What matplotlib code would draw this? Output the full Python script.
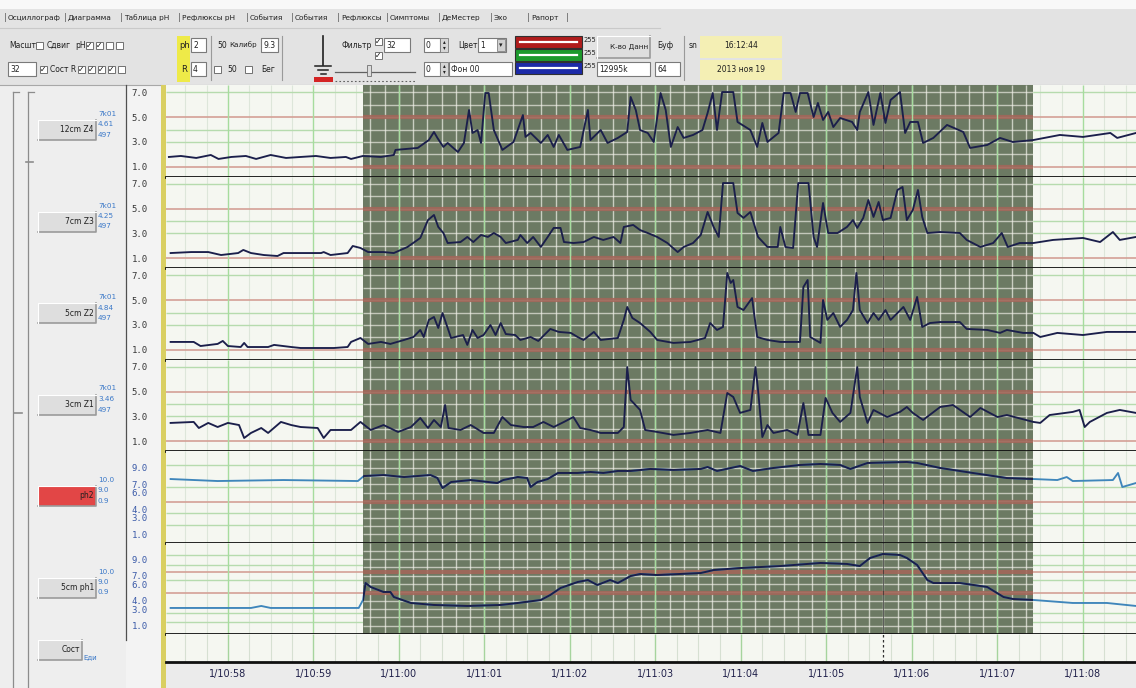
import matplotlib.pyplot as plt
from matplotlib.patches import Rectangle
import numpy as np

plt.rcParams['font.family'] = ['DejaVu Sans']

W, H = 1136, 688

# time axis in minutes after 10:58
time_labels = ["1/10:58", "1/10:59", "1/11:00", "1/11:01", "1/11:02", "1/11:03",
               "1/11:04", "1/11:05", "1/11:06", "1/11:07", "1/11:08"]
t_min, t_max = -0.724, 10.62
episode_start, episode_end = 1.58, 9.42
cursor_t = 7.66

tabs = ["Осциллограф", "Диаграмма", "Таблица pH", "Рефлюксы pH", "События", "События",
        "Рефлюксы", "Симптомы", "ДеМестер", "Эхо", "Рапорт"]

channels = ["12cm Z4", "7cm Z3", "5cm Z2", "3cm Z1", "ph2", "5cm ph1"]
channel_info = [["7k01", "4.61", "497"], ["7k01", "4.25", "497"], ["7k01", "4.84", "497"],
                ["7k01", "3.46", "497"], ["10.0", "9.0", "0.9"], ["10.0", "9.0", "0.9"]]

z_ticks = [7, 5, 3, 1]
ph_ticks = [9, 7, 6, 4, 3, 1]

# impedance channels
t_z4 = [-0.69, -0.55, -0.37, -0.20, -0.11, 0.04, 0.21, 0.33, 0.50, 0.68, 0.85, 1.03, 1.20, 1.38,
        1.44, 1.58, 1.79, 1.94, 1.96, 2.22, 2.35, 2.41, 2.45, 2.52, 2.57, 2.69, 2.76, 2.82, 2.86,
        2.92, 2.96, 3.01, 3.05, 3.11, 3.21, 3.34, 3.45, 3.48, 3.54, 3.66, 3.74, 3.81, 3.87, 3.97,
        4.12, 4.21, 4.24, 4.36, 4.44, 4.56, 4.67, 4.71, 4.77, 4.82, 4.91, 4.98, 5.06, 5.12, 5.18,
        5.26, 5.33, 5.44, 5.55, 5.61, 5.67, 5.72, 5.78, 5.91, 5.96, 6.11, 6.19, 6.25, 6.31, 6.44,
        6.50, 6.58, 6.64, 6.69, 6.78, 6.85, 6.90, 6.96, 7.02, 7.08, 7.16, 7.30, 7.36, 7.39, 7.49,
        7.55, 7.63, 7.69, 7.75, 7.86, 7.92, 7.98, 8.07, 8.13, 8.25, 8.41, 8.60, 8.68, 8.88, 9.03,
        9.18, 9.42, 9.73, 10.00, 10.32, 10.40, 10.62]
v_z4 = [1.78, 1.86, 1.70, 1.94, 1.62, 1.78, 1.86, 1.62, 1.94, 1.70, 1.78, 1.86, 1.70, 1.78,
        1.62, 1.86, 1.78, 1.94, 2.35, 2.51, 3.15, 3.80, 3.32, 2.59, 2.91, 2.18, 2.91, 5.58, 3.72,
        3.96, 2.91, 6.95, 6.95, 3.96, 2.35, 2.99, 5.17, 3.40, 3.72, 2.91, 3.56, 2.59, 3.56, 2.35,
        2.59, 5.58, 3.15, 3.96, 2.91, 3.32, 3.80, 6.63, 5.58, 3.96, 3.72, 2.99, 6.95, 5.58, 2.59,
        4.20, 3.32, 3.56, 3.96, 5.34, 6.95, 3.96, 7.03, 7.03, 4.61, 3.96, 2.59, 4.53, 2.99, 3.72,
        6.95, 6.95, 5.42, 6.95, 6.95, 5.01, 6.15, 4.77, 5.42, 4.20, 4.93, 4.61, 3.96, 5.42, 7.03,
        4.37, 6.95, 4.53, 6.39, 7.03, 3.72, 4.61, 4.61, 2.91, 3.32, 4.37, 3.80, 2.51, 2.75, 3.32,
        2.99, 3.15, 3.56, 3.40, 3.72, 3.32, 3.72]

t_z3 = [-0.67, -0.43, -0.23, -0.08, 0.12, 0.18, 0.27, 0.42, 0.58, 0.65, 0.89, 1.09, 1.12, 1.20,
        1.40, 1.46, 1.55, 1.64, 1.82, 1.94, 2.10, 2.25, 2.34, 2.41, 2.46, 2.52, 2.57, 2.72, 2.80,
        2.87, 2.96, 3.04, 3.11, 3.19, 3.25, 3.39, 3.42, 3.50, 3.57, 3.66, 3.74, 3.81, 3.89, 3.93,
        4.04, 4.16, 4.28, 4.39, 4.51, 4.59, 4.63, 4.74, 4.82, 4.91, 5.02, 5.14, 5.26, 5.33, 5.44,
        5.53, 5.61, 5.68, 5.74, 5.79, 5.91, 5.96, 6.03, 6.11, 6.20, 6.31, 6.43, 6.46, 6.52, 6.61,
        6.67, 6.79, 6.85, 6.89, 6.96, 7.02, 7.13, 7.24, 7.31, 7.36, 7.43, 7.49, 7.55, 7.61, 7.66,
        7.75, 7.83, 7.89, 7.94, 8.01, 8.07, 8.12, 8.18, 8.33, 8.56, 8.64, 8.80, 8.95, 9.05, 9.12,
        9.26, 9.42, 9.65, 10.00, 10.20, 10.35, 10.43, 10.62]
v_z3 = [1.41, 1.49, 1.49, 1.25, 1.41, 1.66, 1.41, 1.25, 1.17, 1.41, 1.41, 1.41, 1.49, 1.25,
        1.41, 1.98, 1.82, 1.49, 1.49, 1.41, 1.90, 2.63, 4.08, 4.49, 3.52, 3.03, 2.22, 2.30, 2.71,
        2.30, 2.87, 2.71, 3.03, 2.71, 2.22, 2.47, 2.87, 2.22, 2.71, 1.90, 2.71, 3.44, 3.44, 2.30,
        2.22, 2.30, 2.71, 2.47, 2.71, 2.22, 3.52, 3.68, 3.27, 3.03, 2.71, 2.22, 1.49, 1.90, 2.22,
        2.87, 4.73, 3.52, 2.71, 7.07, 7.07, 4.65, 4.25, 4.73, 2.71, 1.90, 1.90, 3.52, 1.90, 1.82,
        7.07, 7.07, 2.71, 1.90, 5.46, 3.03, 3.03, 3.52, 4.08, 3.44, 4.25, 5.70, 4.33, 5.54, 4.08,
        4.25, 6.51, 6.75, 4.08, 4.89, 6.51, 4.33, 3.03, 3.11, 3.03, 2.47, 1.90, 2.22, 3.03, 1.90,
        2.22, 2.22, 2.47, 2.63, 2.30, 3.11, 2.47, 2.71]

t_z2 = [-0.67, -0.40, -0.32, -0.12, -0.06, 0.00, 0.15, 0.19, 0.23, 0.47, 0.54, 0.74, 0.85, 1.24,
        1.40, 1.44, 1.55, 1.64, 1.79, 1.90, 2.06, 2.17, 2.25, 2.29, 2.35, 2.41, 2.46, 2.51, 2.57,
        2.61, 2.75, 2.80, 2.86, 2.92, 2.99, 3.07, 3.13, 3.19, 3.25, 3.36, 3.42, 3.54, 3.63, 3.77,
        3.87, 4.01, 4.09, 4.16, 4.28, 4.36, 4.56, 4.63, 4.67, 4.73, 4.82, 4.94, 5.02, 5.21, 5.41,
        5.58, 5.64, 5.72, 5.79, 5.84, 5.88, 5.91, 5.96, 6.03, 6.13, 6.19, 6.31, 6.46, 6.69, 6.73,
        6.78, 6.81, 6.93, 6.96, 7.01, 7.08, 7.16, 7.24, 7.31, 7.35, 7.39, 7.48, 7.55, 7.61, 7.69,
        7.75, 7.90, 7.98, 8.06, 8.12, 8.21, 8.33, 8.56, 8.64, 8.88, 9.03, 9.11, 9.30, 9.42, 9.50,
        9.70, 10.00, 10.28, 10.62]
v_z2 = [1.62, 1.62, 1.29, 1.46, 1.70, 1.29, 1.21, 1.54, 1.21, 1.21, 1.38, 1.21, 1.13, 1.13,
        1.21, 1.62, 1.94, 1.46, 1.62, 1.46, 1.78, 2.02, 2.59, 2.02, 3.40, 3.64, 2.75, 3.96, 2.75,
        1.94, 2.18, 1.38, 2.59, 1.94, 2.18, 2.99, 2.18, 3.15, 2.26, 2.18, 1.78, 2.02, 1.70, 2.67,
        2.43, 2.35, 2.02, 1.78, 2.43, 1.78, 1.94, 3.40, 4.45, 3.56, 3.15, 2.43, 1.78, 1.54, 1.62,
        1.94, 3.15, 2.59, 2.83, 7.20, 6.39, 6.63, 4.45, 4.20, 5.17, 2.02, 1.78, 1.62, 1.62, 6.06,
        6.63, 2.02, 1.54, 5.01, 3.40, 3.96, 2.83, 3.40, 4.20, 7.20, 4.20, 3.15, 3.96, 3.40, 4.20,
        3.40, 4.45, 3.40, 5.26, 2.83, 3.15, 3.23, 3.23, 2.67, 2.59, 2.35, 2.59, 2.35, 2.35, 2.02,
        2.35, 2.18, 2.43, 2.43]

t_z1 = [-0.67, -0.40, -0.34, -0.23, -0.12, 0.00, 0.13, 0.19, 0.27, 0.39, 0.47, 0.62, 0.74, 0.85,
        1.05, 1.12, 1.20, 1.44, 1.55, 1.67, 1.82, 1.99, 2.14, 2.25, 2.34, 2.41, 2.49, 2.54, 2.58,
        2.72, 2.84, 2.99, 3.11, 3.21, 3.31, 3.46, 3.57, 3.69, 3.81, 3.93, 4.04, 4.12, 4.24, 4.36,
        4.56, 4.63, 4.67, 4.71, 4.82, 4.88, 5.02, 5.21, 5.41, 5.61, 5.76, 5.84, 5.91, 5.99, 6.11,
        6.17, 6.20, 6.25, 6.31, 6.38, 6.54, 6.66, 6.73, 6.79, 6.93, 6.99, 7.07, 7.16, 7.28, 7.36,
        7.39, 7.48, 7.55, 7.71, 7.86, 7.94, 8.01, 8.13, 8.33, 8.48, 8.68, 8.80, 9.00, 9.11, 9.42,
        9.50, 9.61, 9.88, 9.96, 10.02, 10.08, 10.28, 10.43, 10.62]
v_z1 = [2.47, 2.55, 2.06, 2.47, 2.14, 2.47, 2.30, 1.25, 1.66, 2.06, 1.66, 2.55, 2.30, 2.14,
        2.06, 1.25, 1.90, 1.90, 2.55, 1.90, 2.30, 1.74, 2.14, 2.87, 2.06, 2.71, 2.14, 3.92, 2.06,
        1.90, 2.30, 1.66, 1.66, 2.95, 2.30, 2.14, 2.14, 2.55, 2.14, 2.55, 2.95, 2.06, 1.90, 1.66,
        1.66, 2.14, 6.99, 4.33, 3.52, 1.90, 1.74, 1.50, 1.66, 1.90, 1.66, 4.89, 4.57, 3.28, 3.52,
        6.99, 5.13, 1.33, 2.30, 1.66, 1.90, 1.50, 4.08, 1.50, 1.50, 4.49, 3.28, 2.55, 3.28, 6.99,
        4.57, 2.47, 3.52, 2.95, 3.36, 3.76, 3.28, 2.71, 3.76, 3.92, 2.95, 3.68, 2.95, 3.11, 2.55,
        2.47, 3.11, 3.36, 3.52, 2.14, 2.55, 3.28, 3.52, 3.28]

# pH channels
t_ph2 = [-0.67, -0.12, 0.65, 1.52, 1.59, 1.82, 2.06, 2.37, 2.45, 2.51, 2.61, 2.84, 3.15, 3.22,
         3.39, 3.50, 3.54, 3.62, 3.74, 3.86, 4.09, 4.24, 4.39, 4.56, 4.71, 4.94, 5.21, 5.53, 5.61,
         5.72, 5.99, 6.14, 6.38, 6.69, 6.93, 7.16, 7.28, 7.48, 7.94, 8.06, 8.33, 8.71, 9.11, 9.42,
         9.70, 9.81, 9.88, 10.35, 10.41, 10.46, 10.62]
v_ph2 = [7.63, 7.39, 7.51, 7.39, 7.99, 8.11, 7.87, 8.11, 7.75, 6.55, 7.27, 7.51, 7.15, 7.51,
         7.87, 7.75, 6.67, 7.27, 7.63, 8.36, 8.36, 8.48, 8.36, 8.60, 8.60, 8.84, 8.72, 8.84, 9.08,
         8.60, 9.20, 8.60, 8.96, 9.32, 9.44, 9.32, 8.84, 9.56, 9.68, 9.56, 8.96, 8.36, 7.75, 7.63,
         7.51, 7.87, 7.39, 7.51, 8.36, 6.67, 7.15]

t_ph1 = [-0.67, 0.27, 0.39, 0.50, 1.53, 1.58, 1.61, 1.67, 1.82, 1.90, 1.94, 2.14, 2.41, 2.80,
         3.19, 3.39, 3.66, 3.77, 3.89, 4.09, 4.21, 4.32, 4.47, 4.56, 4.71, 4.82, 5.02, 5.53, 5.68,
         5.99, 6.46, 6.93, 7.24, 7.39, 7.51, 7.66, 7.86, 7.94, 8.06, 8.18, 8.25, 8.56, 8.88, 9.07,
         9.18, 9.42, 9.88, 10.28, 10.62]
v_ph1 = [3.13, 3.13, 3.37, 3.13, 3.13, 4.09, 6.13, 5.65, 5.05, 5.05, 4.45, 3.73, 3.49, 3.37,
         3.49, 3.73, 4.09, 4.69, 5.53, 6.25, 6.49, 5.89, 6.49, 6.13, 6.97, 7.21, 7.09, 7.33, 7.69,
         7.93, 8.17, 8.54, 8.42, 8.17, 9.14, 9.62, 9.50, 9.14, 8.30, 6.49, 6.13, 6.13, 5.65, 4.45,
         4.21, 4.09, 3.73, 3.73, 3.37]

lane_tops = [85, 176.5, 268, 359.5, 451, 542.5]
lane_h = 91.5

fig = plt.figure(figsize=(W / 100, H / 100), dpi=100, facecolor='#ebebeb')


def px_axes(x0, y0, x1, y1):
    return fig.add_axes([x0 / W, 1 - y1 / H, (x1 - x0) / W, (y1 - y0) / H])


# ---- window chrome drawn in pixel coordinates
ui = px_axes(0, 0, W, H)
ui.set_xlim(0, W)
ui.set_ylim(H, 0)
ui.axis('off')


def rect(x0, y0, x1, y1, fc, ec='none', lw=0.8, z=1):
    ui.add_patch(Rectangle((x0, y0), x1 - x0, y1 - y0, facecolor=fc, edgecolor=ec, lw=lw, zorder=z))


def label(x, y, s, size=5.5, color='#202020', ha='left', **kw):
    ui.text(x, y, s, fontsize=size, color=color, ha=ha, va='center', zorder=4, **kw)


def field(x0, y0, x1, y1, s='', fc='white'):
    rect(x0, y0, x1, y1, fc, '#7a7a7a', 0.8, 2)
    if s:
        label(x0 + 2, (y0 + y1) / 2, s)


def checkbox(x, y, on):
    rect(x, y - 3.5, x + 7, y + 3.5, 'white', '#707070', 0.7, 2)
    if on:
        label(x + 3.5, y, '✓', size=5.5, ha='center', color='#101010')


def button(x0, y0, x1, y1, s, fc='#dedede', size=5.5):
    rect(x0, y0, x1, y1, fc, z=2)
    ui.plot([x0, x1, x1], [y1, y1, y0], color='#9a9a9a', lw=1.2, zorder=3)
    ui.plot([x0, x0, x1], [y1, y0, y0], color='white', lw=0.8, zorder=3)
    label(x1 - 2, (y0 + y1) / 2, s, size=size, ha='right')


rect(0, 0, W, 9, '#f8f8f8')
rect(0, 9, W, 85, '#e3e3e3')
ui.plot([0, W], [84.5, 84.5], color='#a8a8a8', lw=0.8, zorder=2)
ui.plot([0, 660], [28, 28], color='#c9c9c9', lw=0.8, zorder=2)

tab_x = [8, 68, 124, 182, 250, 295, 341, 390, 442, 494, 531]
for x, s in zip(tab_x, tabs):
    label(x, 18, s, size=5.3)
    label(x - 4, 18, '|', size=6, color='#606060')
label(566, 18, '|', size=6, color='#606060')

# row 1 of controls
label(9, 45, 'Масшт')
checkbox(36, 45, False)
label(47, 45, 'Сдвиг')
label(75, 45, 'pH')
for i, on in enumerate([True, True, False, False]):
    checkbox(86 + 10 * i, 45, on)
# row 2 of controls
field(8, 62, 36, 76, '32')
checkbox(40, 69, True)
label(50, 69, 'Сост R')
for i, on in enumerate([True, True, True, True, False]):
    checkbox(78 + 10 * i, 69, on)

rect(177, 36, 190, 82, '#eeea48')
label(179, 45, 'ph', size=6)
label(181, 69, 'R', size=6)
field(191, 38, 206, 52, '2')
field(191, 62, 206, 76, '4')
ui.plot([211, 211], [36, 80], color='#9a9a9a', lw=0.8, zorder=2)
label(217, 45, '50')
label(229, 45, 'Калибр', size=5.1)
field(261, 38, 278, 52, '9.3')
checkbox(214, 69, False)
label(227, 69, '50')
checkbox(245, 69, False)
label(261, 69, 'Бег')
ui.plot([282, 282], [36, 80], color='#9a9a9a', lw=0.8, zorder=2)

# ground symbol
ui.plot([323, 323], [36, 65], color='#202020', lw=1.2, zorder=3)
for y, half in [(66, 8), (70, 5), (74, 2.5)]:
    ui.plot([323 - half, 323 + half], [y, y], color='#202020', lw=1.1, zorder=3)
rect(314, 77, 333, 82, '#d42424', z=3)

label(342, 45, 'Фильтр')
checkbox(375, 41, True)
checkbox(375, 55, True)
field(384, 38, 410, 52, '32')
ui.plot([335, 415], [72, 72], color='#606060', lw=0.9, zorder=3)
rect(367, 65, 371, 76, '#dcdcdc', '#707070', 0.6, 3)
ui.plot([335, 415], [81, 81], color='#606060', lw=0.8, ls=(0, (1.5, 2)), zorder=3)
for y0 in [38, 62]:
    field(424, y0, 440, y0 + 14, '0')
    rect(440, y0, 448, y0 + 14, '#d6d6d6', '#7a7a7a', 0.6, 2)
    label(444, y0 + 4, '▴', size=4, ha='center')
    label(444, y0 + 10, '▾', size=4, ha='center')
label(458, 45, 'Цвет')
field(478, 38, 506, 52, '1')
rect(497, 39, 505, 51, '#d0d0d0', '#808080', 0.6, 3)
label(501, 45, '▾', size=5, ha='center')
field(449, 62, 512, 76, 'Фон 00')

for y0, c in [(36, '#b01c1c'), (49, '#1c9a2c'), (62, '#1c2aa8')]:
    rect(515, y0, 582, y0 + 12, c, '#303030', 0.8, 2)
    ui.plot([520, 577], [y0 + 6, y0 + 6], color='white', lw=1.6, zorder=3)
    label(584, y0 + 4, '255', size=4.8)

button(597, 36, 650, 58, 'К-во Данн', size=5.2)
field(597, 62, 650, 76, '12995k')
label(657, 45, 'Буф')
field(655, 62, 680, 76, '64')
ui.plot([684, 684], [36, 80], color='#9a9a9a', lw=0.8, zorder=2)
label(689, 45, 'sn')
rect(700, 36, 782, 58, '#f4efb4', z=2)
label(741, 46, '16:12:44', ha='center')
rect(700, 60, 782, 80, '#f4efb4', z=2)
label(741, 70, '2013 ноя 19', ha='center')

# left panel with channel buttons and scale column
rect(0, 85, 126, H, '#eeeeee')
rect(126, 85, 162, H, '#f3f3f3')
ui.plot([126, 126], [85, 640], color='#505050', lw=0.9, zorder=2)
rect(161, 85, 166, H, '#d9cf62', z=2)
for x in [13, 28]:
    ui.plot([x, x], [92, H], color='#8c8c8c', lw=0.9, zorder=2)
    ui.plot([x, x + 6], [92, 92], color='#8c8c8c', lw=0.9, zorder=2)
ui.plot([26, 33], [162, 162], color='#8c8c8c', lw=1.2, zorder=2)
ui.plot([14, 22], [413, 413], color='#8c8c8c', lw=1.2, zorder=2)

for name, info, top in zip(channels, channel_info, lane_tops):
    fc = '#e24646' if name == 'ph2' else '#dedede'
    button(38, top + 35, 96, top + 55, name, fc=fc)
    for k, s in enumerate(info):
        label(98, top + 29 + 10.5 * k, s, size=5.2, color='#3a78c8')
button(38, 640, 82, 660, 'Сост')
label(83, 657, 'Еди', size=5, color='#3a78c8')

# ---- signal lanes
major = np.arange(0, 11)
minor = np.array([m for m in np.arange(-0.75, 10.75, 0.25) if m % 1 != 0])
fine_t = np.arange(np.ceil(episode_start * 6) / 6, episode_end, 1 / 6)

lanes = [
    (t_z4, v_z4, 'z'), (t_z3, v_z3, 'z'), (t_z2, v_z2, 'z'),
    (t_z1, v_z1, 'z'), (t_ph2, v_ph2, 'ph'), (t_ph1, v_ph1, 'ph'),
]
green_levels = {'z': [7, 4, 3], 'ph2': [9.3, 6.7, 3.5, 2.1], 'ph1': [9.5, 8.3, 6.5, 2.5, 1.4]}
red_levels = {'z': [5, 1], 'ph2': [4.9], 'ph1': [7.5, 4.9]}

for i, (t, v, kind) in enumerate(lanes):
    top = lane_tops[i]
    ax = px_axes(166, top, W, top + lane_h)
    ax.set_xlim(t_min, t_max)
    if kind == 'z':
        ylim = (0.2, 7.6)
        ticks = z_ticks
        key = 'z'
        fine_levels = np.arange(1, 8)
        tick_color = '#363636'
    else:
        ylim = (0, 11)
        ticks = ph_ticks
        key = 'ph2' if i == 4 else 'ph1'
        fine_levels = np.arange(1, 11)
        tick_color = '#3a5aa8'
    ax.set_ylim(*ylim)
    ax.set_facecolor('#f5f7f1')

    ax.vlines(minor, *ylim, color='#dde6da', lw=0.8, zorder=1)
    ax.hlines(green_levels[key], t_min, t_max, color='#b6dbae', lw=1.0, zorder=1)
    ax.hlines(red_levels[key], t_min, t_max, color='#d4a096', lw=1.2, zorder=1)

    ax.axvspan(episode_start, episode_end, color='#6c7a63', lw=0, zorder=2)
    ax.vlines(fine_t, *ylim, color='#f2f2ea', alpha=0.7, lw=1.0, zorder=3)
    ax.hlines(fine_levels, episode_start, episode_end, color='#f2f2ea', alpha=0.65, lw=1.0, zorder=3)
    ax.hlines(red_levels[key], episode_start, episode_end, color='#a2675a', alpha=0.9, lw=3.0, zorder=3)
    ax.vlines(major, *ylim, color='#a6dc9e', lw=1.0, zorder=4)
    ax.axvline(cursor_t, color='#2a2a2a', lw=0.7, alpha=0.7, zorder=4)

    if kind == 'z':
        ax.plot(t, v, color='#1b1f4b', lw=1.35, zorder=5)
    else:
        ax.plot(t, v, color='#3f86bb', lw=1.35, zorder=5)
        clip = Rectangle((episode_start, ylim[0]), episode_end - episode_start,
                         ylim[1] - ylim[0], transform=ax.transData)
        dark, = ax.plot(t, v, color='#1b1f4b', lw=1.4, zorder=6)
        dark.set_clip_path(clip)

    ax.set_yticks(ticks)
    ax.set_yticklabels([f"{x:.1f}" for x in ticks], fontsize=6.5,
                       family='DejaVu Sans Mono', color=tick_color)
    ax.tick_params(axis='y', length=0, pad=13)
    ax.set_xticks([])
    for s in ['top', 'left', 'right']:
        ax.spines[s].set_visible(False)
    ax.spines['bottom'].set_color('#101010')
    ax.spines['bottom'].set_linewidth(2.0)
    ax.spines['bottom'].set_zorder(7)

# ---- state strip with time axis
axb = px_axes(166, 634, W, 662)
axb.set_xlim(t_min, t_max)
axb.set_ylim(0, 1)
axb.set_facecolor('#f5f7f1')
axb.vlines(minor, 0, 1, color='#d6e0d2', lw=0.8)
axb.vlines(major, 0, 1, color='#a6d49e', lw=1.0)
axb.axvline(cursor_t, color='#303030', lw=0.9, ls=(0, (2, 2)))
axb.set_yticks([])
axb.set_xticks(major)
axb.set_xticklabels(time_labels, fontsize=7, color='#20204a')
axb.tick_params(axis='x', length=0, pad=5)
for s in ['top', 'left', 'right']:
    axb.spines[s].set_visible(False)
axb.spines['bottom'].set_color('#101010')
axb.spines['bottom'].set_linewidth(2.0)

fig.savefig('out.png', dpi=100, facecolor=fig.get_facecolor())
